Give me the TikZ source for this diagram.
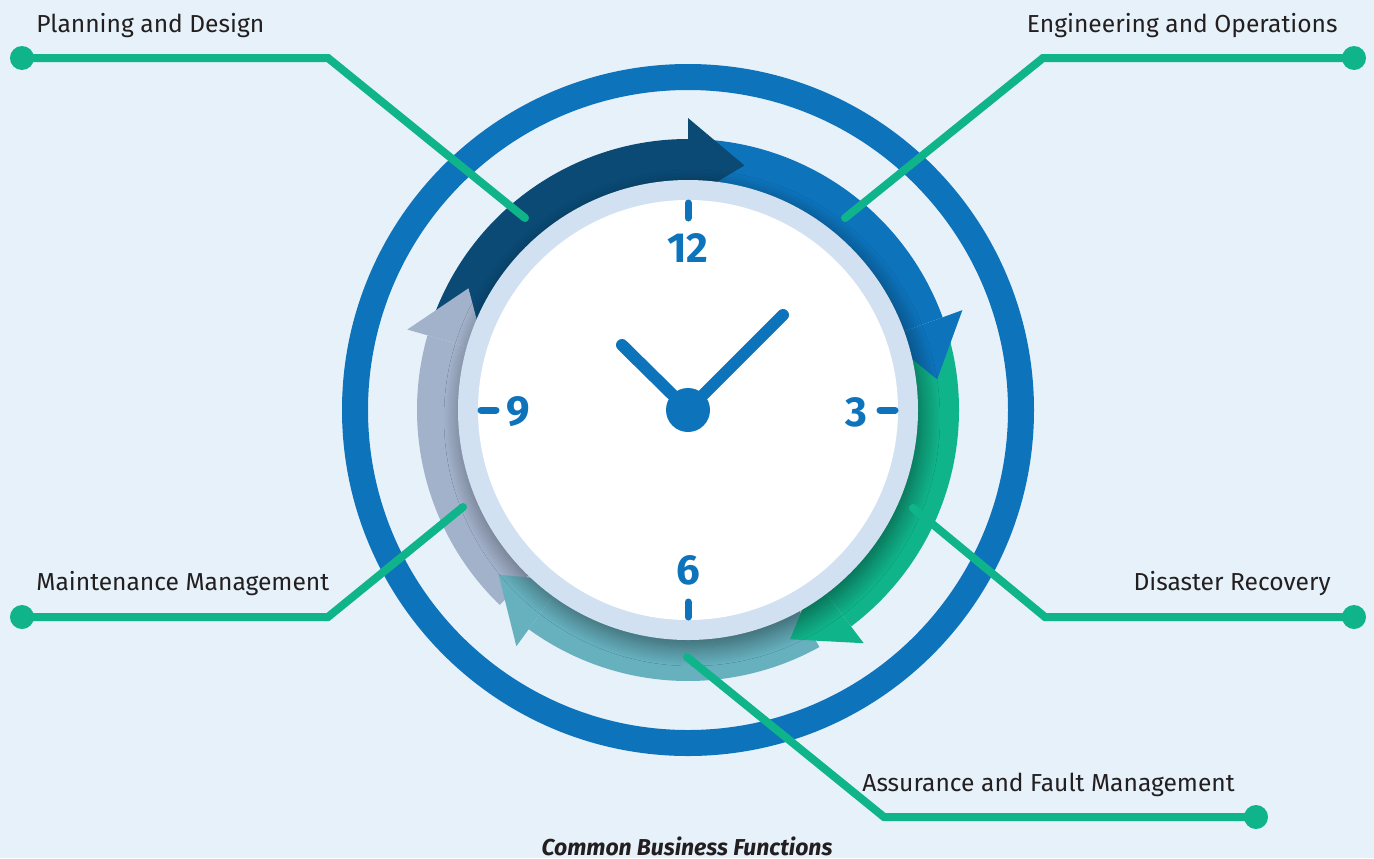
\documentclass[tikz,border=0pt]{standalone}
\usepackage{fontspec}
\setmainfont{Fira Sans}
\usetikzlibrary{shadows.blur}
\definecolor{bgblue}{HTML}{E6F1F9}
\definecolor{ringblue}{HTML}{0D73BB}
\definecolor{navy}{HTML}{0A4A75}
\definecolor{leafgreen}{HTML}{10B48A}
\definecolor{teal}{HTML}{67B1BF}
\definecolor{lavender}{HTML}{A3B2CB}
\definecolor{facering}{HTML}{D2E1F1}
\definecolor{inkdark}{HTML}{231F20}
\tikzset{
  link/.style={draw=leafgreen, line width=4pt, line cap=round, line join=miter},
  dot/.style={circle, fill=leafgreen, inner sep=0pt, minimum size=12pt},
  label/.style={text=inkdark, inner sep=0pt, font=\fontsize{12.3}{15}\selectfont},
  numeral/.style={text=ringblue, inner sep=0pt, font=\fontsize{21}{24}\selectfont\bfseries},
  hand/.style={draw=ringblue, line width=6pt, line cap=round},
  tick/.style={draw=ringblue, line width=3.5pt, line cap=round}
}
% body: colour, start angle, back angle
\newcommand\arrowbody[3]{
  \fill[#1] (#2:271) arc[start angle=#2, end angle=#3, radius=271]
    -- (#3:212) arc[start angle=#3, end angle=#2, radius=212] -- cycle;
}
% head: colour, back angle, tip angle
\newcommand\arrowhead[3]{
  \fill[#1] (#2:292) -- (#3:251) -- (#2:211) -- cycle;
}
\begin{document}
\begin{tikzpicture}[x=0.5pt, y=0.5pt]
  \fill[bgblue] (-688,-448) rectangle (686,410);
  \useasboundingbox (-688,-448) rectangle (686,410);

  \draw[ringblue, line width=13pt] (0,0) circle (333);

  \arrowbody{navy}{159}{90}
  \arrowbody{ringblue}{85}{20}
  \arrowbody{leafgreen}{15}{-53}
  \arrowbody{teal}{-61}{-126}
  \arrowbody{lavender}{-134}{-196}
  \arrowhead{navy}{90}{77}
  \arrowhead{ringblue}{20}{7}
  \arrowhead{leafgreen}{-53}{-66}
  \arrowhead{teal}{-126}{-139}
  \arrowhead{lavender}{-196}{-209}

  \fill[facering, blur shadow={shadow xshift=2pt, shadow yshift=-4pt, shadow blur radius=9pt, shadow blur steps=16, shadow opacity=45}] (0,0) circle (230);
  \fill[white] (0,0) circle (210);

  \foreach \a in {0,90,180,270}
    \draw[tick] (\a:192) -- (\a:207);
  \node[numeral] (n12) at (0,162) {12};
  \node[numeral] (n3) at (168,-2) {3};
  \node[numeral] (n6) at (0,-160) {6};
  \node[numeral] (n9) at (-170,-2) {9};

  \node[circle, fill=ringblue, inner sep=0pt, minimum size=22pt] (hub) at (0,0) {};
  \coordinate (hourtip) at (-66,65);
  \coordinate (minutetip) at (95,95);
  \draw[hand] (hub.center) -- (hourtip);
  \draw[hand] (hub.center) -- (minutetip);

  \coordinate (pdbend) at (-360,352);
  \coordinate (pdend) at (-163,192);
  \coordinate (eobend) at (355,352);
  \coordinate (eoend) at (157,192);
  \coordinate (drbend) at (357,-207);
  \coordinate (drend) at (225,-98);
  \coordinate (mmbend) at (-360,-207);
  \coordinate (mmend) at (-225,-97);
  \coordinate (afbend) at (196,-407);
  \coordinate (afend) at (-1,-247);
  \node[dot] (pddot) at (-666,352) {};
  \node[dot] (eodot) at (666,352) {};
  \node[dot] (drdot) at (666,-207) {};
  \node[dot] (mmdot) at (-666,-207) {};
  \node[dot] (afdot) at (568,-407) {};
  \draw[link] (pddot.center) -- (pdbend) -- (pdend);
  \draw[link] (eodot.center) -- (eobend) -- (eoend);
  \draw[link] (drdot.center) -- (drbend) -- (drend);
  \draw[link] (mmdot.center) -- (mmbend) -- (mmend);
  \draw[link] (afdot.center) -- (afbend) -- (afend);

  \node[label, anchor=base west] (pdtext) at (-652,378) {Planning and Design};
  \node[label, anchor=base east] (eotext) at (650,378) {Engineering and Operations};
  \node[label, anchor=base west] (mmtext) at (-652,-180) {Maintenance Management};
  \node[label, anchor=base east] (drtext) at (643,-180) {Disaster Recovery};
  \node[label, anchor=base west] (aftext) at (174,-381) {Assurance and Fault Management};
  \node[label, anchor=base, font=\fontsize{11.5}{14}\selectfont\bfseries\itshape] (caption) at (-1,-445) {Common Business Functions};
\end{tikzpicture}
\end{document}
